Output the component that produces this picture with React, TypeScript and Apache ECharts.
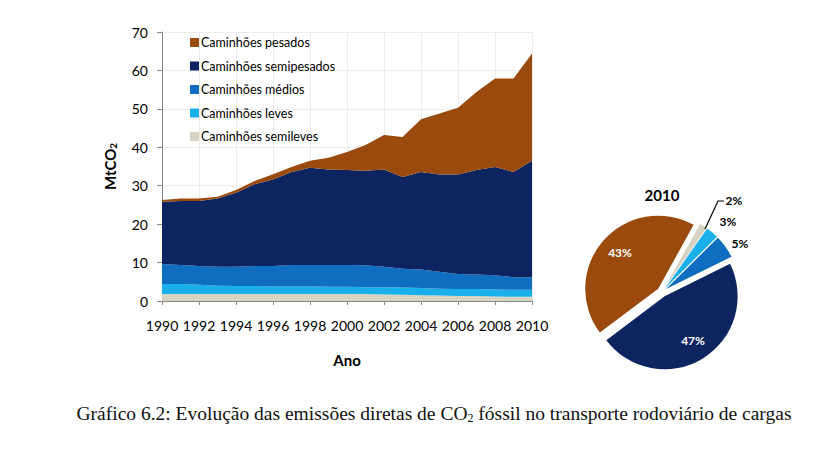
import React, { useEffect, useRef } from "react";
import * as echarts from "echarts";

const years = ["1990","1991","1992","1993","1994","1995","1996","1997","1998","1999","2000","2001","2002","2003","2004","2005","2006","2007","2008","2009","2010"];
const seriesNames = ["Caminhões semileves", "Caminhões leves", "Caminhões médios", "Caminhões semipesados", "Caminhões pesados"];
const semileves = [1.8,1.8,1.8,1.8,1.8,1.8,1.8,1.8,1.8,1.8,1.8,1.8,1.7,1.6,1.5,1.4,1.3,1.3,1.2,1.1,1.1];
const leves = [2.6,2.6,2.4,2.2,2.1,2.1,2.0,2.0,2.0,1.9,1.9,1.8,1.9,1.9,1.9,1.8,1.8,1.8,1.8,1.8,1.8];
const medios = [5.2,5.0,4.9,4.9,5.0,5.2,5.3,5.6,5.6,5.7,5.7,5.7,5.3,4.9,4.8,4.4,3.9,3.8,3.7,3.3,3.3];
const semipesados = [16.2,16.6,16.9,17.8,19.3,21.3,22.5,24.2,25.3,24.8,24.7,24.6,25.3,23.9,25.4,25.3,25.9,27.2,28.2,27.4,30.3];
const pesados = [0.5,0.7,0.7,0.4,0.7,0.8,1.4,1.3,1.8,3.1,4.7,6.7,9.0,10.4,13.7,15.9,17.4,20.3,23.0,24.3,27.9];
const colors = ["#D8D4C3", "#18AFEA", "#0F6EBF", "#0C2561", "#9A4A0D"];
const captionParts = ["Gráfico 6.2: Evolução das emissões diretas de CO", "2", " fóssil no transporte rodoviário de cargas"];

export default function App() {
  const ref = useRef<HTMLDivElement>(null);
  useEffect(() => {
    const chart = echarts.init(ref.current!, undefined, { renderer: "svg" });
    const values = [semileves, leves, medios, semipesados, pesados];
    const last = years.length - 1;
    const font = "Lato, 'Open Sans', sans-serif";
    const pieValues = values.map((v) => v[last]);
    const pieTotal = pieValues.reduce((a, b) => a + b, 0);
    const piePct = pieValues.map((v) => Math.round((v / pieTotal) * 100) + "%");
    // label anchor positions for the pie labels (layout only)
    const pieLabelPos = [
      [734, 200],
      [728, 221],
      [740, 243],
      [693, 340],
      [620, 252],
    ];
    const pieLabels = piePct.map((t, i) => ({
      type: "text",
      x: pieLabelPos[i][0],
      y: pieLabelPos[i][1],
      z: 10,
      style: {
        text: t,
        font: "bold 12px Lato",
        fill: i >= 3 ? "#fff" : "#000",
        textAlign: "center",
        textVerticalAlign: "middle",
      },
    }));
    chart.setOption({
      animation: false,
      textStyle: { fontFamily: font },
      grid: { left: 162, right: 306, top: 32, bottom: 152 },
      legend: {
        data: seriesNames.slice().reverse(),
        orient: "vertical",
        left: 190,
        top: 36,
        padding: 0,
        itemWidth: 9,
        itemHeight: 9,
        itemGap: 10.5,
        icon: "rect",
        selectedMode: false,
        textStyle: { fontSize: 12.5, color: "#000", fontFamily: font, padding: [0, 0, 0, -3] },
      },
      graphic: [
        {
          type: "text",
          x: 662,
          y: 195,
          style: { text: years[last], font: "bold 15px Lato", fill: "#000", textAlign: "center", textVerticalAlign: "middle" },
        },
        {
          type: "text",
          x: 434,
          y: 413,
          style: {
            text: "{a|" + captionParts[0] + "}{s|" + captionParts[1] + "}{a|" + captionParts[2] + "}",
            textAlign: "center",
            textVerticalAlign: "middle",
            rich: {
              a: { fontFamily: "'Liberation Serif', serif", fontSize: 19.5, fill: "#111" },
              s: { fontFamily: "'Liberation Serif', serif", fontSize: 12, fill: "#111", padding: [10, 0, 0, 0] },
            },
          },
        },
        {
          type: "polyline",
          z: 10,
          shape: { points: [[705, 229], [718, 201], [724, 201]] },
          style: { stroke: "#000", lineWidth: 1.2, fill: null },
        },
        ...pieLabels,
      ],
      xAxis: {
        type: "category",
        data: years,
        boundaryGap: false,
        name: "Ano",
        nameLocation: "middle",
        nameGap: 51,
        nameTextStyle: { fontWeight: "bold", fontSize: 15, color: "#000", fontFamily: font },
        axisLine: { lineStyle: { color: "#888" } },
        axisTick: { interval: 1, length: 4, lineStyle: { color: "#888" } },
        axisLabel: { interval: 1, fontSize: 14, color: "#000", margin: 17, fontFamily: font },
        splitLine: { show: true, interval: 1, lineStyle: { color: "#ececec" } },
      },
      yAxis: {
        type: "value",
        min: 0,
        max: 70,
        interval: 10,
        name: "{a|MtCO}{b|2}",
        nameLocation: "middle",
        nameGap: 44,
        nameRotate: 90,
        nameTextStyle: {
          rich: {
            a: { fontWeight: "bold", fontSize: 15, color: "#000", fontFamily: font },
            b: { fontWeight: "bold", fontSize: 10, color: "#000", fontFamily: font, padding: [7, 0, 0, 0] },
          },
        },
        axisLine: { show: true, lineStyle: { color: "#888" } },
        axisTick: { show: true, length: 5, lineStyle: { color: "#888" } },
        axisLabel: { fontSize: 14, color: "#000", margin: 14, fontFamily: font },
        splitLine: { show: true, lineStyle: { color: "#ececec" } },
      },
      series: [
        ...seriesNames.map((name, i) => ({
          name,
          type: "line",
          stack: "total",
          data: values[i],
          symbol: "none",
          lineStyle: { width: 0 },
          areaStyle: { color: colors[i], opacity: 1 },
          itemStyle: { color: colors[i] },
          z: 2,
        })),
        {
          type: "pie",
          center: [662, 292],
          radius: 73,
          startAngle: 61,
          clockwise: true,
          selectedMode: "multiple",
          selectedOffset: 5,
          silent: true,
          label: { show: false },
          labelLine: { show: false },
          data: seriesNames.map((name, i) => ({
            name,
            value: pieValues[i],
            selected: true,
            itemStyle: { color: colors[i] },
          })),
        },
      ],
    });
    return () => chart.dispose();
  }, []);
  return <div ref={ref} style={{ position: "fixed", left: 0, top: 0, width: 838, height: 453, background: "#fff" }} />;
}
